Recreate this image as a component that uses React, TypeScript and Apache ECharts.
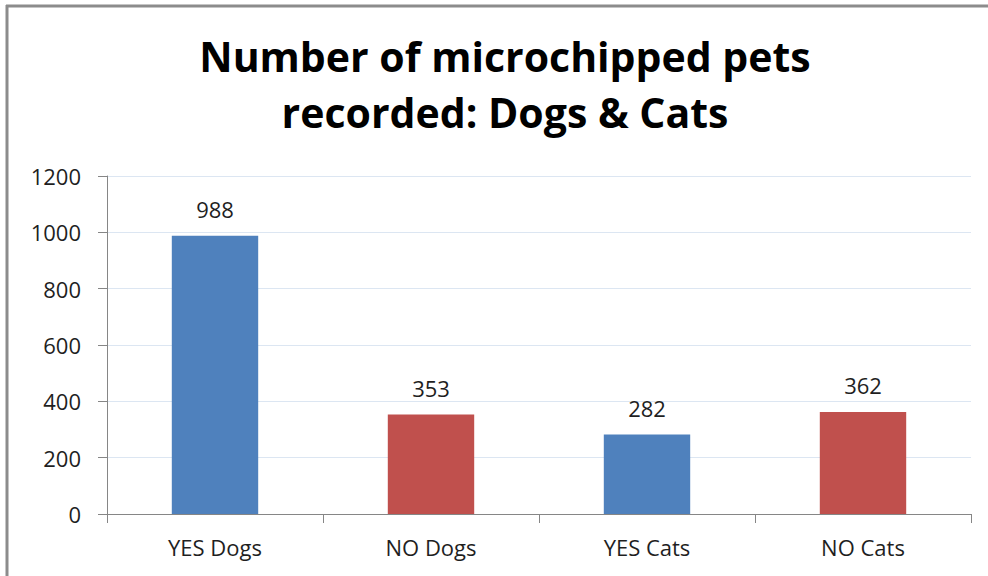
import React, { useEffect, useRef } from "react";
import * as echarts from "echarts";

// Chart data
const categories = ["YES Dogs", "NO Dogs", "YES Cats", "NO Cats"];
const petCounts = [988, 353, 282, 362];
const barColors = ["#4F81BD", "#C0504D", "#4F81BD", "#C0504D"];
const yTicks = { min: 0, max: 1200, interval: 200 };
const titleLines = ["Number of microchipped pets", "recorded: Dogs & Cats"];

const FONT = "'Open Sans', Lato, 'DejaVu Sans', sans-serif";

export default function App() {
  const ref = useRef<HTMLDivElement>(null);

  useEffect(() => {
    document.body.style.margin = "0";
    if (!ref.current) return;
    const chart = echarts.init(ref.current, undefined, { renderer: "svg" });
    chart.setOption({
      animation: false,
      backgroundColor: "#ffffff",
      title: {
        text: titleLines.join("\n"),
        left: 500,
        top: 23,
        textAlign: "center",
        textStyle: {
          fontFamily: FONT,
          fontWeight: "bold",
          fontSize: 41,
          lineHeight: 56,
          color: "#000000",
        },
      },
      grid: { left: 107, right: 17, top: 176, bottom: 62 },
      xAxis: {
        type: "category",
        data: categories,
        boundaryGap: true,
        axisLine: { lineStyle: { color: "#868686", width: 1 } },
        axisTick: { show: true, length: 9, inside: false, lineStyle: { color: "#868686" } },
        axisLabel: {
          margin: 22,
          fontFamily: FONT,
          fontSize: 22,
          color: "#1f1f1f",
        },
      },
      yAxis: {
        type: "value",
        min: yTicks.min,
        max: yTicks.max,
        interval: yTicks.interval,
        axisLine: { show: true, lineStyle: { color: "#868686", width: 1 } },
        axisTick: { show: true, length: 9, lineStyle: { color: "#868686" } },
        splitLine: { show: true, lineStyle: { color: "#DCE6F2", width: 1 } },
        axisLabel: {
          margin: 26,
          fontFamily: FONT,
          fontSize: 22,
          color: "#1f1f1f",
          formatter: (v: number) => String(v),
        },
      },
      series: [
        {
          type: "bar",
          barWidth: "40%",
          data: petCounts.map((v, i) => ({
            value: v,
            itemStyle: { color: barColors[i] },
          })),
          label: {
            show: true,
            position: "top",
            distance: 16,
            fontFamily: FONT,
            fontSize: 22,
            color: "#1f1f1f",
          },
        },
      ],
      graphic: [
        {
          type: "line",
          shape: { x1: 7, y1: 5, x2: 7, y2: 576 },
          style: { stroke: "#8C8C8C", lineWidth: 3 },
        },
        {
          type: "line",
          shape: { x1: 6, y1: 6, x2: 988, y2: 6 },
          style: { stroke: "#8C8C8C", lineWidth: 3 },
        },
      ],
    });
    return () => chart.dispose();
  }, []);

  return <div ref={ref} style={{ width: 988, height: 576 }} />;
}
